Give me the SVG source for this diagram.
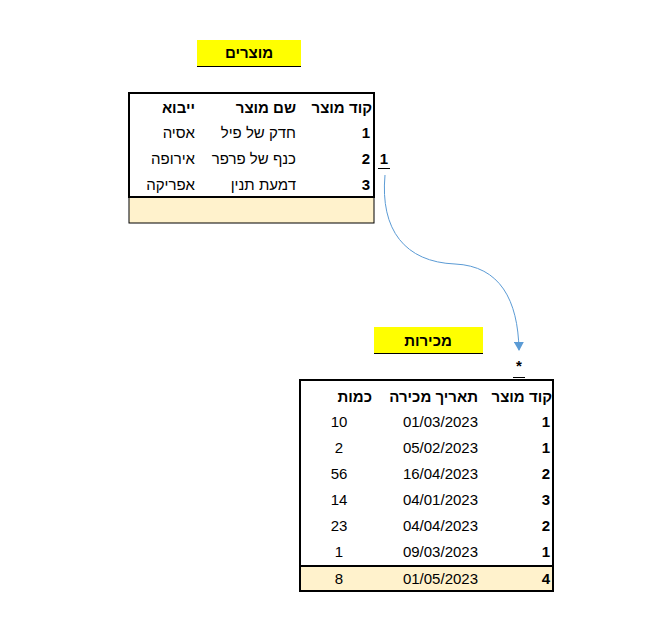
<svg xmlns="http://www.w3.org/2000/svg" width="658" height="635" viewBox="0 0 658 635">
<style>
text{font-family:"Liberation Sans","DejaVu Sans",sans-serif;font-size:15px;fill:#000}
.b{font-weight:bold}
.r{text-anchor:end}
.m{text-anchor:middle}
.ttl{fill:#ffff00}
.beige{fill:#fff2cc;stroke:#000;stroke-width:1}
.frame{fill:none;stroke:#000;stroke-width:2}
</style>
<defs><marker id="ah" markerWidth="10" markerHeight="10" refX="8" refY="5" orient="auto" markerUnits="userSpaceOnUse"><path d="M0,0 L9,5 L0,10 z" fill="#5b9bd5"/></marker></defs>
<rect width="658" height="635" fill="#fff"/>
<g id="products-title"><rect class="ttl" x="197" y="40" width="104" height="26"/><line x1="197" y1="66.5" x2="301" y2="66.5" stroke="#000"/><text class="b m" x="249" y="58">מוצרים</text></g>
<g id="products">
<rect class="beige" x="129" y="197" width="245" height="26"/>
<rect class="frame" x="129" y="93" width="245" height="104"/>
<text class="b r" x="372" y="113">קוד מוצר</text><text class="b r" x="296" y="113">שם מוצר</text><text class="b r" x="195" y="113">ייבוא</text>
<text class="b r" x="370" y="138">1</text><text class="r" x="296" y="138">חדק של פיל</text><text class="r" x="195" y="138">אסיה</text>
<text class="b r" x="370" y="164">2</text><text class="r" x="296" y="164">כנף של פרפר</text><text class="r" x="195" y="164">אירופה</text>
<text class="b r" x="370" y="190">3</text><text class="r" x="296" y="190">דמעת תנין</text><text class="r" x="195" y="190">אפריקה</text>
</g>
<g id="sales-title"><rect class="ttl" x="374" y="327" width="109" height="26"/><line x1="374" y1="353.5" x2="483" y2="353.5" stroke="#000"/><text class="b m" x="428" y="346">מכירות</text></g>
<g id="sales">
<rect class="beige" x="300" y="566" width="253" height="25"/>
<rect class="frame" x="300" y="380" width="253" height="186"/>
<rect class="frame" x="300" y="566" width="253" height="25"/>
<text class="b r" x="552" y="402">קוד מוצר</text><text class="b r" x="478" y="402">תאריך מכירה</text><text class="b r" x="372" y="402">כמות</text>
<text class="b r" x="550" y="427">1</text><text class="r" x="478" y="427">01/03/2023</text><text class="m" x="339" y="427">10</text>
<text class="b r" x="550" y="453">1</text><text class="r" x="478" y="453">05/02/2023</text><text class="m" x="339" y="453">2</text>
<text class="b r" x="550" y="479">2</text><text class="r" x="478" y="479">16/04/2023</text><text class="m" x="339" y="479">56</text>
<text class="b r" x="550" y="505">3</text><text class="r" x="478" y="505">04/01/2023</text><text class="m" x="339" y="505">14</text>
<text class="b r" x="550" y="531">2</text><text class="r" x="478" y="531">04/04/2023</text><text class="m" x="339" y="531">23</text>
<text class="b r" x="550" y="557">1</text><text class="r" x="478" y="557">09/03/2023</text><text class="m" x="339" y="557">1</text>
<text class="b r" x="550" y="584">4</text><text class="r" x="478" y="584">01/05/2023</text><text class="m" x="339" y="584">8</text>
</g>
<g id="connectors">
<path d="M385,175 C380,230 405,262 455,264 C500,266 518,300 519,350" fill="none" stroke="#5b9bd5" stroke-width="1" marker-end="url(#ah)"/>
<text class="b m" x="384" y="164">1</text><line x1="378" y1="168.5" x2="390" y2="168.5" stroke="#000"/>
<text class="b m" x="519" y="371">*</text><line x1="513" y1="377.5" x2="525" y2="377.5" stroke="#000"/>
</g>
</svg>
